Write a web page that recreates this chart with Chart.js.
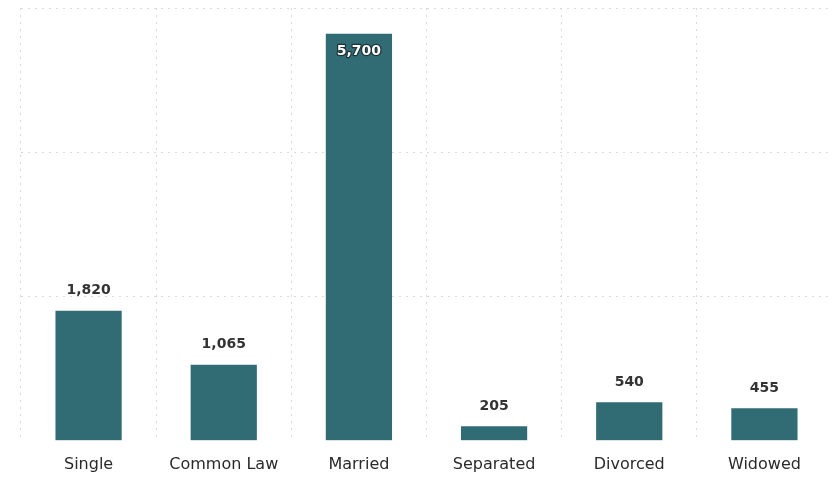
<!DOCTYPE html>
<html>
<head>
<meta charset="utf-8">
<script src="https://cdn.jsdelivr.net/npm/chart.js@4.4.1/dist/chart.umd.min.js"></script>
<style>
  html, body { margin: 0; padding: 0; background: #ffffff; overflow: hidden; }
  #wrap { width: 840px; height: 490px; position: relative; }
</style>
</head>
<body>
<div id="wrap"><canvas id="chart"></canvas></div>
<script>
// Marital status counts
const categories = ['Single', 'Common Law', 'Married', 'Separated', 'Divorced', 'Widowed'];
const counts = [1820, 1065, 5700, 205, 540, 455];
const yMax = 6060;
const yStep = 2000;

const barColor = '#316c74';
const gridColor = '#d9d9d9';

// Draws the value of each bar: above it, or inside the top when there is no room above
const valueLabels = {
  id: 'valueLabels',
  afterDatasetsDraw(chart) {
    const ctx = chart.ctx;
    const area = chart.chartArea;
    const meta = chart.getDatasetMeta(0);
    ctx.save();
    ctx.font = 'bold 14px "DejaVu Sans", Verdana, sans-serif';
    ctx.textAlign = 'center';
    ctx.textBaseline = 'middle';
    meta.data.forEach((bar, i) => {
      const value = chart.data.datasets[0].data[i];
      const text = value.toLocaleString('en-US');
      if (bar.y - 30 < area.top) {
        const y = bar.y + 18;
        ctx.lineJoin = 'round';
        ctx.lineWidth = 2.5;
        ctx.strokeStyle = '#1d3236';
        ctx.strokeText(text, bar.x, y);
        ctx.fillStyle = '#ffffff';
        ctx.fillText(text, bar.x, y);
      } else {
        ctx.fillStyle = '#333333';
        ctx.fillText(text, bar.x, bar.y - 20);
      }
    });
    ctx.restore();
  }
};

new Chart(document.getElementById('chart'), {
  type: 'bar',
  data: {
    labels: categories,
    datasets: [{
      data: counts,
      backgroundColor: barColor,
      borderWidth: 0,
      categoryPercentage: 1.0,
      barPercentage: 0.49
    }]
  },
  options: {
    responsive: true,
    maintainAspectRatio: false,
    animation: false,
    layout: { padding: { left: 21, right: 8, top: 8, bottom: 2 } },
    plugins: {
      legend: { display: false },
      tooltip: { enabled: false }
    },
    scales: {
      x: {
        offset: true,
        grid: {
          offset: true,
          color: gridColor,
          lineWidth: 1,
          drawTicks: false
        },
        border: { display: false, dash: [2, 5] },
        ticks: {
          padding: 14,
          color: '#2a2a2a',
          font: { family: '"DejaVu Sans", Verdana, sans-serif', size: 16 }
        }
      },
      y: {
        min: 0,
        max: yMax,
        ticks: { display: false, stepSize: yStep },
        grid: {
          drawTicks: false,
          lineWidth: 1,
          color: (c) => (c.tick && c.tick.value === 0 ? 'rgba(0,0,0,0)' : gridColor)
        },
        border: { display: false, dash: [2, 5] }
      }
    }
  },
  plugins: [valueLabels]
});
</script>
</body>
</html>
